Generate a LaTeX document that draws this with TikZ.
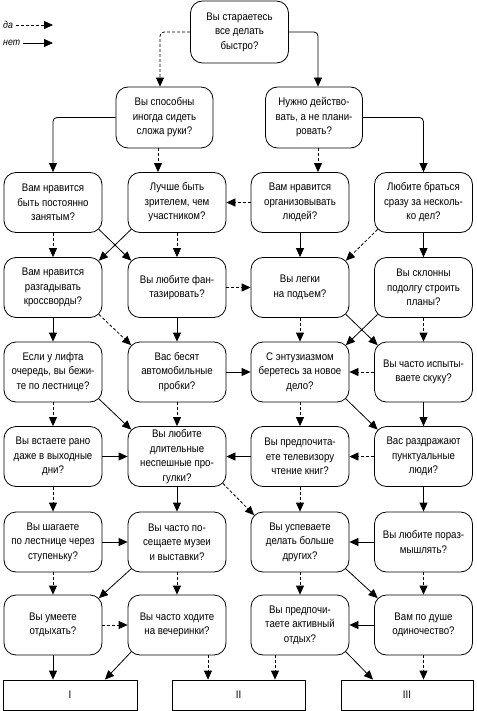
\documentclass[tikz,border=0pt]{standalone}
\usepackage{fontspec}
\setmainfont{Liberation Sans}[FakeStretch=0.88]
\usetikzlibrary{arrows.meta,calc}
\tikzset{
  q/.style={draw, rounded corners=12pt, minimum width=98pt, minimum height=60pt,
    align=center, inner sep=0pt, font=\fontsize{11}{14.5}\selectfont, line width=0.8pt},
  res/.style={draw, minimum width=134pt, minimum height=30pt, inner sep=0pt,
    font=\fontsize{11}{14.5}\selectfont, line width=0.8pt},
  noarr/.style={-{Triangle[length=9pt,width=8pt]}, line width=0.8pt},
  yesarr/.style={noarr, dash pattern=on 3pt off 2pt},
  leg/.style={anchor=west, inner sep=0pt, font=\fontsize{10}{12}\selectfont\itshape},
  se/.style={shift={(-3.5pt,3.5pt)}},
  sw/.style={shift={(3.5pt,3.5pt)}},
  ne/.style={shift={(-3.5pt,-3.5pt)}},
  nw/.style={shift={(3.5pt,-3.5pt)}}
}
\begin{document}
\begin{tikzpicture}[x=1pt,y=-1pt]
\useasboundingbox (0,0) rectangle (476,711);
% legend
\node[leg] (lda) at (3,25) {да};
\node[leg] (lnet) at (3,43) {нет};
\coordinate (eda) at (53,25);
\coordinate (enet) at (53,43);
\draw[yesarr] ([xshift=3pt]lda.east) -- (eda);
\draw[noarr] ([xshift=3pt]lnet.east) -- (enet);
% nodes
\node[q, minimum height=62pt] (T) at (239.5,32) {Вы стараетесь\\все делать\\быстро?};
\node[q, minimum width=97pt, minimum height=61pt] (A) at (164.5,117.5) {Вы способны\\иногда сидеть\\сложа руки?};
\node[q, minimum width=97pt, minimum height=61pt] (B) at (314,117.5) {Нужно действо-\\вать, а не плани-\\ровать?};

\node[q] (r3c1) at (53,202.5) {Вам нравится\\быть постоянно\\занятым?};
\node[q] (r3c2) at (177,202.5) {Лучше быть\\зрителем, чем\\участником?};
\node[q] (r3c3) at (300,202.5) {Вам нравится\\организовывать\\людей?};
\node[q] (r3c4) at (423.5,202.5) {Любите браться\\сразу за несколь-\\ко дел?};

\node[q] (r4c1) at (53,287.5) {Вам нравится\\разгадывать\\кроссворды?};
\node[q] (r4c2) at (177,287.5) {Вы любите фан-\\тазировать?};
\node[q] (r4c3) at (300,287.5) {Вы легки\\на подъем?};
\node[q] (r4c4) at (423.5,287.5) {Вы склонны\\подолгу строить\\планы?};

\node[q] (r5c1) at (53,372) {Если у лифта\\очередь, вы бежи-\\те по лестнице?};
\node[q] (r5c2) at (177,372) {Вас бесят\\автомобильные\\пробки?};
\node[q] (r5c3) at (300,372) {С энтузиазмом\\беретесь за новое\\дело?};
\node[q] (r5c4) at (423.5,372) {Вы часто испыты-\\ваете скуку?};

\node[q] (r6c1) at (53,456.5) {Вы встаете рано\\даже в выходные\\дни?};
\node[q] (r6c2) at (177,456.5) {Вы любите\\длительные\\неспешные про-\\гулки?};
\node[q] (r6c3) at (300,456.5) {Вы предпочита-\\ете телевизору\\чтение книг?};
\node[q] (r6c4) at (423.5,456.5) {Вас раздражают\\пунктуальные\\люди?};

\node[q] (r7c1) at (53,542) {Вы шагаете\\по лестнице через\\ступеньку?};
\node[q] (r7c2) at (177,542) {Вы часто по-\\сещаете музеи\\и выставки?};
\node[q] (r7c3) at (300,542) {Вы успеваете\\делать больше\\других?};
\node[q] (r7c4) at (423.5,542) {Вы любите пораз-\\мышлять?};

\node[q] (r8c1) at (53,625) {Вы умеете\\отдыхать?};
\node[q] (r8c2) at (177,625) {Вы часто ходите\\на вечеринки?};
\node[q] (r8c3) at (300,625) {Вы предпочи-\\таете активный\\отдых?};
\node[q] (r8c4) at (423.5,625) {Вам по душе\\одиночество?};

\node[res] (I) at (70,695) {I};
\node[res, minimum width=133pt] (II) at (238.5,695) {II};
\node[res, minimum width=132pt] (III) at (407,695) {III};

% top
\draw[yesarr, rounded corners=4pt] (T.west) -| ([xshift=-4.5pt]A.north);
\draw[noarr, rounded corners=4pt] (T.east) -| ([xshift=4pt]B.north);
% row 2
\draw[noarr, rounded corners=4pt] (A.west) -| (r3c1.north);
\draw[yesarr] ([xshift=-6.5pt]A.south) -- ([xshift=-6.5pt]A.south |- r3c2.north);
\draw[yesarr] ([xshift=4pt]B.south) -- ([xshift=4pt]B.south |- r3c3.north);
\draw[noarr, rounded corners=4pt] (B.east) -| (r3c4.north);
% row 3
\draw[yesarr] (r3c1.south) -- (r4c1.north);
\draw[noarr] ([se]r3c1.south east) -- ([nw]r4c2.north west);
\draw[noarr] ([sw]r3c2.south west) -- ([ne]r4c1.north east);
\draw[yesarr] (r3c2.south) -- (r4c2.north);
\draw[yesarr] (r3c3.west) -- (r3c2.east);
\draw[noarr] (r3c3.south) -- (r4c3.north);
\draw[yesarr] ([sw]r3c4.south west) -- ([ne]r4c3.north east);
\draw[noarr] (r3c4.south) -- (r4c4.north);
% row 4
\draw[noarr] (r4c1.south) -- (r5c1.north);
\draw[yesarr] ([se]r4c1.south east) -- ([nw]r5c2.north west);
\draw[noarr] (r4c2.south) -- (r5c2.north);
\draw[yesarr] (r4c2.east) -- (r4c3.west);
\draw[yesarr] (r4c3.south) -- (r5c3.north);
\draw[noarr] ([se]r4c3.south east) -- ([nw]r5c4.north west);
\draw[noarr] ([sw]r4c4.south west) -- ([ne]r5c3.north east);
\draw[yesarr] (r4c4.south) -- (r5c4.north);
% row 5
\draw[yesarr] (r5c1.south) -- (r6c1.north);
\draw[noarr] ([se]r5c1.south east) -- ([nw]r6c2.north west);
\draw[noarr] (r5c2.east) -- (r5c3.west);
\draw[yesarr] (r5c2.south) -- (r6c2.north);
\draw[yesarr] (r5c3.south) -- (r6c3.north);
\draw[noarr] ([se]r5c3.south east) -- ([nw]r6c4.north west);
\draw[yesarr] (r5c4.west) -- (r5c3.east);
\draw[noarr] (r5c4.south) -- (r6c4.north);
% row 6
\draw[noarr] (r6c1.east) -- (r6c2.west);
\draw[yesarr] (r6c1.south) -- (r7c1.north);
\draw[noarr] (r6c2.south) -- (r7c2.north);
\draw[yesarr] ([se]r6c2.south east) -- ([nw]r7c3.north west);
\draw[noarr] (r6c3.west) -- (r6c2.east);
\draw[yesarr] (r6c3.south) -- (r7c3.north);
\draw[yesarr] (r6c4.west) -- (r6c3.east);
\draw[noarr] (r6c4.south) -- (r7c4.north);
% row 7
\draw[noarr] (r7c1.east) -- (r7c2.west);
\draw[yesarr] (r7c1.south) -- (r8c1.north);
\draw[noarr] ([sw]r7c2.south west) -- ([ne]r8c1.north east);
\draw[yesarr] (r7c2.south) -- (r8c2.north);
\draw[yesarr] (r7c3.south) -- (r8c3.north);
\draw[noarr] ([se]r7c3.south east) -- ([nw]r8c4.north west);
\draw[noarr] (r7c4.west) -- (r7c3.east);
\draw[yesarr] (r7c4.south) -- (r8c4.north);
% row 8
\draw[yesarr] (r8c1.east) -- (r8c2.west);
\draw[noarr] (r8c1.south) -- (r8c1.south |- I.north);
\draw[noarr] ([sw]r8c2.south west) -- ([xshift=35pt]I.north);
\draw[yesarr] ([xshift=31pt]r8c2.south) -- ([xshift=31pt]r8c2.south |- II.north);
\draw[yesarr] ([xshift=-25pt]r8c3.south) -- ([xshift=-25pt]r8c3.south |- II.north);
\draw[noarr] ([se]r8c3.south east) -- ([xshift=-34pt]III.north);
\draw[noarr] (r8c4.west) -- (r8c3.east);
\draw[yesarr] (r8c4.south) -- (r8c4.south |- III.north);
\end{tikzpicture}
\end{document}
